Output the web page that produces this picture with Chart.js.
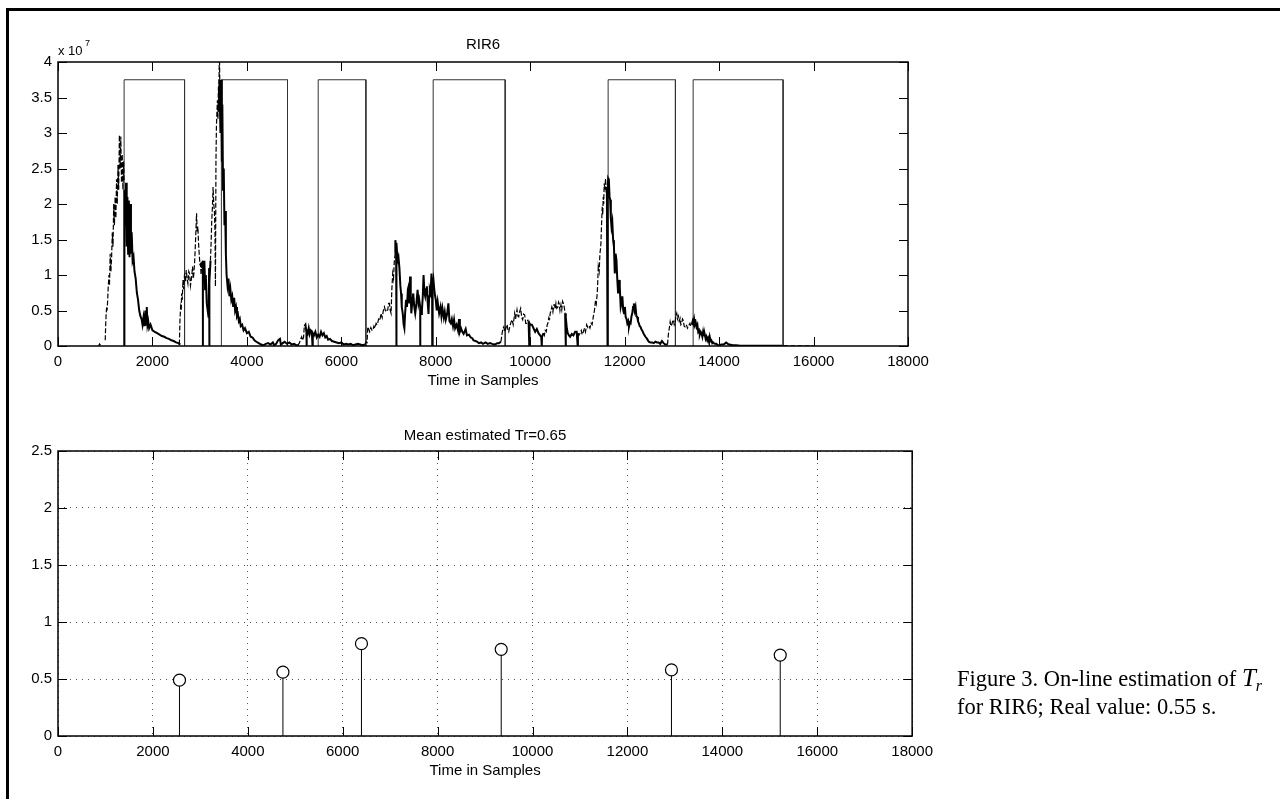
<!DOCTYPE html>
<html>
<head>
<meta charset="utf-8">
<script src="https://cdn.jsdelivr.net/npm/chart.js@4.4.0/dist/chart.umd.min.js"></script>
<style>
body{ margin:0; background:#fff; width:1280px; height:799px; overflow:hidden; position:relative; }
#rirChart{ position:absolute; left:0; top:0; }
#trChart{ position:absolute; left:0; top:400px; }
.frame{ position:absolute; left:6px; top:8px; width:1280px; height:800px; border-top:3px solid #000; border-left:3px solid #000; }
.caption{ position:absolute; left:957px; top:665px; font-family:'Liberation Serif', 'Times New Roman', serif; font-size:22.5px; line-height:26px; color:#000; white-space:nowrap; }
.caption i{ font-size:25px; }
.caption .sub{ font-style:italic; font-size:16px; position:relative; top:5px; }
</style>
</head>
<body>
<canvas id="rirChart" width="940" height="400"></canvas>
<canvas id="trChart" width="940" height="399"></canvas>
<div class="frame"></div>
<div class="caption">Figure 3. On-line estimation of <i>T</i><span class="sub">r</span><br>for RIR6; Real value: 0.55 s.</div>

<script>
/*DATA*/
const timeTicks = [0, 2000, 4000, 6000, 8000, 10000, 12000, 14000, 16000, 18000]
const energyTicks = [0, 0.5, 1, 1.5, 2, 2.5, 3, 3.5, 4]
const trTicks = [0, 0.5, 1, 1.5, 2, 2.5]

// detected decay segments (samples) and the height of their boxes (x 10^7)
const segStart = [1400, 3460, 5510, 7945, 11650, 13450]
const segEnd = [2680, 4860, 6520, 9470, 13075, 15355]
const boxTop = 3.75

// energy envelope, rising parts (dashed) [sample, x 10^7], null = gap
const riseTrace = [
    [860,0],[880,0.03],[900,0.01],null,
    [1000,0.08],[1010,0.3],[1020,0.45],[1030,0.55],[1040,0.5],[1050,0.62],[1065,0.85],[1080,1.0],[1090,0.85],
    [1105,1.3],[1120,1.05],[1135,1.25],[1150,1.6],[1165,1.4],[1180,2.0],[1195,1.7],[1210,2.1],[1225,1.8],
    [1240,2.35],[1255,2.0],[1270,2.55],[1285,2.2],[1300,2.97],[1315,2.5],[1330,2.95],[1345,2.3],[1360,2.7],
    [1375,2.2],[1390,2.6],[1400,2.3],null,
    [2570,0.02],[2583,0.37],[2597,0.55],[2610,0.5],[2618,0.74],[2632,0.65],[2646,0.93],[2660,0.8],[2681,1.02],
    [2700,0.9],[2716,1.07],[2735,0.95],[2751,0.88],[2770,1.05],[2786,1.02],[2805,0.85],[2821,0.93],[2835,1.0],
    [2849,1.12],[2865,0.95],[2877,1.02],[2895,1.2],[2913,1.49],[2925,1.7],[2934,1.87],[2948,1.6],[2962,1.68],
    [2976,1.45],[2990,1.3],[3005,1.15],[3018,1.16],[3030,1.0],[3046,1.2],null,
    [3228,1.2],[3242,1.45],[3256,1.77],[3270,1.95],[3284,2.24],[3298,2.0],[3312,1.9],[3325,1.6],[3334,0.84],
    [3345,2.6],[3355,3.09],[3366,3.3],[3376,3.46],[3387,3.2],[3397,3.65],[3407,3.5],[3417,4.2],[3428,3.6],[3439,3.7],null,
    [5080,0.01],[5110,0.04],[5140,0.1],[5160,0.13],[5180,0.08],[5200,0.12],[5215,0.27],null,
    [6500,0.02],[6527,0.06],[6545,0.05],[6560,0.27],[6580,0.24],[6600,0.2],[6625,0.26],[6650,0.22],[6667,0.22],
    [6690,0.28],[6710,0.25],[6737,0.32],[6760,0.3],[6790,0.38],[6815,0.36],[6842,0.46],[6865,0.4],[6890,0.5],
    [6913,0.55],[6940,0.48],[6960,0.5],[6983,0.51],[7000,0.6],[7018,0.6],[7035,0.5],[7053,0.46],[7070,0.8],
    [7088,1.02],[7105,0.95],[7123,1.21],[7140,1.3],null,
    [9380,0.06],[9405,0.18],[9425,0.25],[9440,0.27],[9460,0.2],[9480,0.24],[9510,0.3],[9530,0.22],[9545,0.2],
    [9570,0.28],[9590,0.33],[9615,0.37],[9640,0.3],[9660,0.4],[9671,0.46],[9690,0.38],[9720,0.51],[9740,0.42],
    [9756,0.41],[9775,0.48],[9798,0.53],[9820,0.4],[9840,0.37],[9860,0.45],[9882,0.44],[9905,0.32],[9924,0.32],
    [9945,0.36],[9966,0.34],null,
    [10282,0.18],[10300,0.15],[10317,0.22],[10340,0.2],[10360,0.3],[10374,0.32],[10395,0.4],[10410,0.38],
    [10423,0.46],[10440,0.5],[10458,0.55],[10480,0.48],[10500,0.58],[10514,0.58],[10530,0.52],[10545,0.6],
    [10563,0.53],[10585,0.55],[10600,0.62],[10612,0.6],[10630,0.5],[10650,0.58],[10668,0.51],[10685,0.63],
    [10703,0.6],[10720,0.55],[10739,0.46],null,
    [11010,0.18],[11030,0.15],[11054,0.18],[11080,0.22],[11100,0.16],[11125,0.2],[11150,0.25],[11170,0.2],
    [11195,0.3],[11220,0.26],[11245,0.28],[11265,0.25],[11290,0.32],[11310,0.3],[11335,0.41],[11360,0.5],
    [11384,0.65],[11400,0.6],[11419,0.74],[11430,0.9],[11441,1.12],[11460,1.05],[11476,1.3],[11490,1.38],
    [11497,1.45],[11510,1.7],[11525,1.96],[11536,1.85],[11546,2.1],[11556,2.0],[11567,2.29],[11580,2.2],
    [11595,2.36],[11610,2.15],[11623,2.24],null,
    [12907,0.02],[12928,0.18],[12945,0.25],[12963,0.34],[12980,0.28],[12998,0.3],[13015,0.35],[13033,0.37],
    [13050,0.3],[13068,0.33],[13085,0.42],[13103,0.46],[13120,0.38],[13138,0.42],[13155,0.35],[13173,0.39],
    [13190,0.3],[13208,0.32],[13225,0.38],[13242,0.36],[13260,0.28],[13277,0.27],[13295,0.3],[13312,0.29],
    [13330,0.25],[13347,0.27],[13365,0.3],[13382,0.32],[13400,0.28],[13420,0.3],null,
    [15360,0.004],[16000,0.003]
]

// energy envelope, decaying parts (solid) [sample, x 10^7], null = gap
const decayTrace = [
    [1400,0],[1402,1.3],[1410,2.2],[1425,1.7],[1440,2.3],[1455,1.4],[1470,2.1],[1485,1.3],[1500,2.05],[1515,1.25],
    [1530,2.0],[1545,1.3],[1560,1.6],[1580,1.2],[1600,1.25],[1620,1.05],[1645,0.95],[1670,0.75],[1695,0.65],
    [1720,0.5],[1745,0.42],[1770,0.38],[1790,0.3],[1810,0.4],[1830,0.28],[1850,0.5],[1865,0.3],[1880,0.55],
    [1895,0.3],[1910,0.35],[1930,0.25],[1960,0.3],[2000,0.22],[2050,0.2],[2100,0.18],[2150,0.16],[2200,0.14],
    [2250,0.13],[2300,0.11],[2350,0.1],[2400,0.08],[2450,0.07],[2500,0.05],[2550,0.04],[2590,0.02],null,
    [3040,1.1],[3067,1.2],[3068,0],[3069,1.15],[3085,0.95],[3100,1.2],[3115,0.8],[3130,1.0],[3150,0.6],[3170,0.5],
    [3190,0.4],[3200,1.1],[3201,0],[3202,1.1],[3215,0.9],[3230,1.2],null,
    [3405,3.3],[3420,3.75],[3440,3.0],[3455,3.75],[3470,2.6],[3480,3.4],[3495,2.2],[3510,2.5],[3525,1.7],[3540,1.9],
    [3555,1.3],[3570,1.0],[3590,0.85],[3610,0.95],[3630,0.7],[3650,0.8],[3670,0.65],[3690,0.7],[3710,0.55],
    [3730,0.68],[3750,0.5],[3770,0.55],[3790,0.42],[3810,0.45],[3830,0.35],[3850,0.38],[3870,0.28],[3900,0.3],
    [3930,0.22],[3960,0.25],[4000,0.18],[4040,0.2],[4080,0.13],[4120,0.12],[4160,0.08],[4200,0.06],[4250,0.04],
    [4300,0.02],[4350,0.01],[4400,0.03],[4450,0.04],[4500,0.02],[4550,0.05],[4580,0.01],[4620,0.03],[4660,0.08],
    [4700,0.1],[4720,0.02],[4760,0.04],[4800,0.06],[4850,0.03],[4900,0.05],[4950,0.02],[5000,0.03],[5050,0.01],
    [5100,0.01],null,
    [5220,0.28],[5240,0.3],[5260,0.2],[5264,0],[5268,0.22],[5290,0.18],[5310,0.25],[5330,0.17],[5350,0.22],
    [5375,0.2],[5390,0],[5395,0.18],[5420,0.15],[5450,0.2],[5480,0.12],[5510,0.16],[5540,0.13],[5570,0.2],
    [5600,0.15],[5630,0.18],[5660,0.12],[5690,0.14],[5720,0.09],[5760,0.1],[5800,0.07],[5850,0.06],[5900,0.05],
    [5950,0.04],[6000,0.05],[6050,0.02],[6100,0.03],[6150,0.02],[6200,0.03],[6250,0.01],[6300,0.02],[6350,0.03],
    [6400,0.02],[6450,0.01],[6500,0.02],null,
    [7140,1.3],[7144,1.49],[7160,1.4],[7165,0],[7170,1.45],[7190,1.2],[7210,1.25],[7230,1.1],[7250,0.85],
    [7265,0.74],[7280,0.55],[7300,0.46],[7320,0.3],[7335,0.25],[7350,0.45],[7370,0.65],[7390,0.55],[7410,0.8],
    [7425,0.84],[7440,0.6],[7455,0.98],[7470,0.7],[7482,0.46],[7500,0.6],[7523,0.74],[7545,0.55],[7565,0.46],
    [7590,0.6],[7615,0.79],[7635,0.6],[7650,0.65],[7670,0.55],[7671,0],[7673,0.5],[7690,0.45],[7706,0.5],
    [7725,0.7],[7741,1.0],[7760,0.75],[7776,0.7],[7795,0.8],[7811,0.84],[7830,0.6],[7846,0.45],[7860,0.7],
    [7874,0.79],[7890,0.75],[7909,1.02],[7923,0.8],[7924,0],[7926,0.8],[7951,0.93],[7975,0.75],[8000,0.65],
    [8020,0.5],[8040,0.62],[8071,0.46],[8100,0.55],[8120,0.42],[8141,0.53],[8170,0.4],[8190,0.48],[8211,0.37],
    [8240,0.45],[8267,0.6],[8290,0.35],[8317,0.32],[8340,0.38],[8365,0.28],[8387,0.37],[8410,0.25],[8440,0.3],
    [8470,0.22],[8492,0.38],[8510,0.2],[8535,0.25],[8562,0.2],[8590,0.17],[8633,0.24],[8660,0.15],[8703,0.16],
    [8740,0.12],[8773,0.11],[8800,0.08],[8843,0.07],[8880,0.06],[8913,0.04],[8960,0.05],[9000,0.03],[9054,0.05],
    [9100,0.03],[9150,0.04],[9194,0.03],[9250,0.02],[9300,0.04],[9335,0.04],[9380,0.06],null,
    [9966,0.34],[9980,0],[9985,0.32],[10000,0.3],[10035,0.3],[10070,0.25],[10105,0.2],[10140,0.24],[10175,0.18],
    [10210,0.15],[10232,0.13],[10245,0],[10250,0.13],[10282,0.18],null,
    [10739,0.46],[10752,0],[10755,0.4],[10775,0.25],[10795,0.18],[10820,0.15],[10844,0.13],[10880,0.17],
    [10914,0.15],[10950,0.2],[10984,0.2],[11005,0],[11010,0.18],null,
    [11623,2.24],[11637,0],[11640,2.2],[11651,2.36],[11665,2.34],[11680,2.1],[11693,2.06],[11707,1.8],[11721,1.68],
    [11738,1.75],[11756,1.49],[11773,1.4],[11791,1.02],[11808,1.3],[11826,1.21],[11843,0.95],[11861,0.74],
    [11881,0.93],[11896,0.84],[11916,0.55],[11932,0.6],[11951,0.7],[11970,0.5],[11986,0.46],[12005,0.55],
    [12021,0.41],[12040,0.38],[12056,0.32],[12075,0.35],[12091,0.27],[12110,0.33],[12126,0.32],[12145,0.42],
    [12161,0.46],[12178,0.55],[12195,0.6],[12212,0.5],[12230,0.55],[12248,0.42],[12265,0.41],[12282,0.35],
    [12300,0.32],[12318,0.28],[12335,0.27],[12352,0.24],[12370,0.22],[12405,0.17],[12440,0.13],[12475,0.1],
    [12510,0.06],[12545,0.05],[12579,0.05],[12614,0.04],[12649,0.06],[12684,0.05],[12719,0.05],[12754,0.03],
    [12789,0.07],[12824,0.04],[12859,0.02],[12907,0.02],null,
    [13420,0.3],[13440,0.35],[13452,0.32],[13470,0.38],[13487,0.3],[13505,0.33],[13522,0.27],[13540,0.3],
    [13557,0.2],[13575,0.22],[13591,0.16],[13610,0.2],[13626,0.18],[13645,0.13],[13661,0.2],[13680,0.15],
    [13696,0.16],[13715,0.1],[13731,0.13],[13750,0.08],[13766,0.11],[13785,0.06],[13801,0.13],[13820,0.07],
    [13836,0.08],[13855,0.04],[13871,0.05],[13905,0.03],[13940,0.03],[13975,0.01],[14010,0.01],[14045,0.02],
    [14080,0.02],[14115,0.03],[14150,0.05],[14185,0.03],[14220,0.02],[14290,0.01],[14359,0.01],[14450,0.005],
    [14638,0.005],[14800,0.005],[15000,0.005],[15200,0.004],[15336,0.003]
]

// reverberation time estimated at the end of every segment
const stemT = [2560, 4740, 6395, 9340, 12928, 15220]
const stemTr = [0.49, 0.56, 0.81, 0.76, 0.58, 0.71]

/*HELPERS*/
function tracePoints(trace){
    let last = 0
    return trace.map(p => {
        if(p === null) return {x: last, y: null}
        last = p[0]
        return {x: p[0], y: p[1]}
    })
}

const boxPoints = []
segStart.forEach((s, i) => {
    boxPoints.push({x: s, y: 0}, {x: s, y: boxTop}, {x: segEnd[i], y: boxTop}, {x: segEnd[i], y: 0}, {x: segEnd[i], y: null})
})

const stemPoints = []
stemT.forEach((t, i) => {
    stemPoints.push({x: t, y: 0}, {x: t, y: stemTr[i]}, {x: t, y: null})
})
const stemHeads = stemT.map((t, i) => ({x: t, y: stemTr[i]}))

Chart.defaults.font.family = "'Liberation Sans', Arial, Helvetica, sans-serif"
Chart.defaults.font.size = 15
Chart.defaults.color = '#000'

/*BOX WITH INWARD TICKS*/
const matlabBox = {
    id: 'matlabBox',
    afterDraw(chart){
        const {ctx, chartArea: a, scales: {x, y}} = chart
        const len = 9
        ctx.save()
        ctx.strokeStyle = '#000'
        ctx.lineWidth = 1
        ctx.beginPath()
        x.ticks.forEach(t => {
            const px = Math.round(x.getPixelForValue(t.value)) + 0.5
            ctx.moveTo(px, a.bottom); ctx.lineTo(px, a.bottom - len)
            ctx.moveTo(px, a.top); ctx.lineTo(px, a.top + len)
        })
        y.ticks.forEach(t => {
            const py = Math.round(y.getPixelForValue(t.value)) + 0.5
            ctx.moveTo(a.left, py); ctx.lineTo(a.left + len, py)
            ctx.moveTo(a.right, py); ctx.lineTo(a.right - len, py)
        })
        ctx.stroke()
        ctx.lineWidth = 1.5
        ctx.strokeRect(a.left, a.top, a.right - a.left, a.bottom - a.top)
        ctx.restore()
    }
}

const exponentLabel = {
    id: 'exponentLabel',
    afterDraw(chart){
        const {ctx, chartArea: a} = chart
        ctx.save()
        ctx.fillStyle = '#000'
        ctx.font = "13px 'Liberation Sans', Arial, sans-serif"
        ctx.fillText('x 10', a.left, a.top - 7)
        ctx.font = "9px 'Liberation Sans', Arial, sans-serif"
        ctx.fillText('7', a.left + 27, a.top - 16)
        ctx.restore()
    }
}

function xAxis(height){
    return {
        type: 'linear', min: 0, max: 18000,
        afterBuildTicks: s => { s.ticks = timeTicks.map(v => ({value: v})) },
        afterFit: s => { s.height = height },
        ticks: {padding: 7, autoSkip: false, maxRotation: 0, callback: v => String(v)},
        border: {display: false},
        title: {display: true, text: 'Time in Samples', padding: {top: 0, bottom: 1}}
    }
}

/*TOP: RIR6 ENERGY*/
const topX = xAxis(45)
topX.grid = {display: false, drawTicks: false, tickLength: 0}

new Chart(document.getElementById('rirChart'), {
    type: 'scatter',
    data: {
        datasets: [
            {data: tracePoints(decayTrace), showLine: true, borderColor: '#000', borderWidth: 2, pointRadius: 0, spanGaps: false},
            {data: tracePoints(riseTrace), showLine: true, borderColor: '#000', borderWidth: 1.2, borderDash: [5, 2], pointRadius: 0, spanGaps: false},
            {data: boxPoints, showLine: true, borderColor: '#333', borderWidth: 1, pointRadius: 0, spanGaps: false}
        ]
    },
    options: {
        responsive: false,
        animation: false,
        layout: {padding: {left: 0, top: 36, right: 32, bottom: 9}},
        elements: {line: {tension: 0}},
        plugins: {
            legend: {display: false},
            tooltip: {enabled: false},
            title: {display: true, text: 'RIR6', fullSize: false, color: '#000', font: {size: 15, weight: 'normal'}, padding: {top: 0, bottom: 8}}
        },
        scales: {
            x: topX,
            y: {
                min: 0, max: 4,
                afterBuildTicks: s => { s.ticks = energyTicks.map(v => ({value: v})) },
                afterFit: s => { s.width = 58 },
                ticks: {padding: 6, callback: v => String(v)},
                grid: {display: false, drawTicks: false, tickLength: 0},
                border: {display: false}
            }
        }
    },
    plugins: [matlabBox, exponentLabel]
})

/*BOTTOM: ESTIMATED Tr*/
const botX = xAxis(45)
botX.grid = {display: true, color: '#555', lineWidth: 1, drawTicks: false, tickLength: 0}
botX.border = {display: false, dash: [1, 5]}

new Chart(document.getElementById('trChart'), {
    type: 'scatter',
    data: {
        datasets: [
            {data: stemHeads, showLine: false, pointRadius: 6, pointBorderWidth: 1.2, pointBorderColor: '#000', pointBackgroundColor: '#fff'},
            {data: stemPoints, showLine: true, borderColor: '#000', borderWidth: 1, pointRadius: 0, spanGaps: false}
        ]
    },
    options: {
        responsive: false,
        animation: false,
        layout: {padding: {left: 0, top: 27, right: 27, bottom: 18}},
        plugins: {
            legend: {display: false},
            tooltip: {enabled: false},
            title: {display: true, text: 'Mean estimated Tr=0.65', fullSize: false, color: '#000', font: {size: 15, weight: 'normal'}, padding: {top: 0, bottom: 6}}
        },
        scales: {
            x: botX,
            y: {
                min: 0, max: 2.5,
                afterBuildTicks: s => { s.ticks = trTicks.map(v => ({value: v})) },
                afterFit: s => { s.width = 58 },
                ticks: {padding: 6, callback: v => String(v)},
                grid: {display: true, color: '#555', lineWidth: 1, drawTicks: false, tickLength: 0},
                border: {display: false, dash: [1, 5]}
            }
        }
    },
    plugins: [matlabBox]
})
</script>
</body>
</html>
